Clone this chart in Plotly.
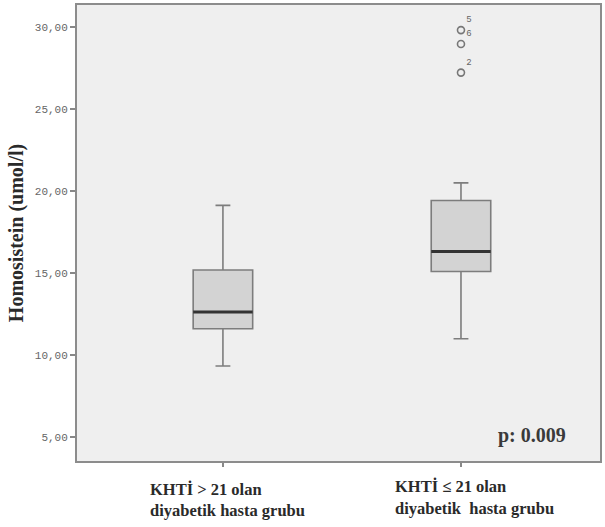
import plotly.graph_objects as go

# ---- data ----
group_keys = ["g1", "g2"]
label_line1 = ["KHTİ > 21 olan", "KHTİ ≤ 21 olan"]
label_line2 = ["diyabetik hasta grubu", "diyabetik  hasta grubu"]
q1_vals = [11.60, 15.09]
median_vals = [12.62, 16.30]
q3_vals = [15.18, 19.42]
lower_fence = [9.33, 10.99]
upper_fence = [19.12, 20.49]

outlier_group = ["g2", "g2", "g2"]
outlier_vals = [29.80, 28.95, 27.21]
outlier_labels = ["5", "6", "2"]

y_tick_vals = [5, 10, 15, 20, 25, 30]
y_tick_text = ["5,00", "10,00", "15,00", "20,00", "25,00", "30,00"]

y_title = "Homosistein (umol/l)"
p_text = "p: 0.009"

fig = go.Figure()

# boxes
fig.add_trace(go.Box(
    x=group_keys, q1=q1_vals, median=median_vals, q3=q3_vals,
    lowerfence=lower_fence, upperfence=upper_fence,
    width=0.25, whiskerwidth=0.25,
    fillcolor="#d3d3d3", line=dict(color="#7d7d7d", width=1.6),
    boxpoints=False, showlegend=False, hoverinfo="skip",
))
# darker median lines (zero-height boxes at the median)
fig.add_trace(go.Box(
    x=group_keys, q1=median_vals, median=median_vals, q3=median_vals,
    lowerfence=median_vals, upperfence=median_vals,
    width=0.25, whiskerwidth=0.0,
    fillcolor="rgba(0,0,0,0)", line=dict(color="#333333", width=3),
    boxpoints=False, showlegend=False, hoverinfo="skip",
))
# outliers
fig.add_trace(go.Scatter(
    x=outlier_group, y=outlier_vals, mode="markers+text",
    text=outlier_labels, textposition="top right",
    textfont=dict(family="Liberation Mono", size=9, color="#666666"),
    marker=dict(symbol="circle-open", size=7, color="#777777", line=dict(width=1.6)),
    showlegend=False, hoverinfo="skip",
))

# category labels (two left-aligned lines per group)
lab_font = dict(family="Liberation Serif", size=16.5, color="#2a2a2a", weight="bold")
line_y1 = [-0.062, -0.055]
line_y2 = [-0.109, -0.105]
xshifts = [-75, -68]
for key, l1, l2, y1, y2, xs in zip(group_keys, label_line1, label_line2, line_y1, line_y2, xshifts):
    fig.add_annotation(x=key, xref="x", y=y1, yref="paper", xanchor="left", yanchor="middle",
                       text=l1, showarrow=False, xshift=xs, font=lab_font)
    fig.add_annotation(x=key, xref="x", y=y2, yref="paper", xanchor="left", yanchor="middle",
                       text=l2, showarrow=False, xshift=xs, font=lab_font)

fig.add_annotation(
    x=0.939, xref="paper", y=0.057, yref="paper", xanchor="right", yanchor="middle",
    text=p_text, showarrow=False,
    font=dict(family="Liberation Serif", size=20, color="#3a3a3a", weight="bold"),
)

fig.update_layout(
    width=605, height=527,
    margin=dict(l=77, r=5, t=3, b=66),
    paper_bgcolor="white", plot_bgcolor="#efefef",
    boxmode="overlay",
    xaxis=dict(
        type="category", categoryorder="array", categoryarray=group_keys,
        range=[-0.613, 1.584], showticklabels=False,
        ticks="outside", ticklen=4, tickcolor="#888888", tickwidth=1.5,
        showline=True, mirror=True, linecolor="#8c8c8c", linewidth=2,
        showgrid=False, zeroline=False,
    ),
    yaxis=dict(
        range=[3.54, 31.33], tickvals=y_tick_vals, ticktext=y_tick_text,
        ticks="outside", ticklen=5, tickcolor="#888888", tickwidth=1.5,
        tickfont=dict(family="Liberation Mono", size=11, color="#666666"),
        showline=True, mirror=True, linecolor="#8c8c8c", linewidth=2,
        showgrid=False, zeroline=False,
        title=dict(text=y_title, standoff=6,
                   font=dict(family="Liberation Serif", size=20, color="#2a2a2a", weight="bold")),
    ),
)

fig.write_html("out.html")
